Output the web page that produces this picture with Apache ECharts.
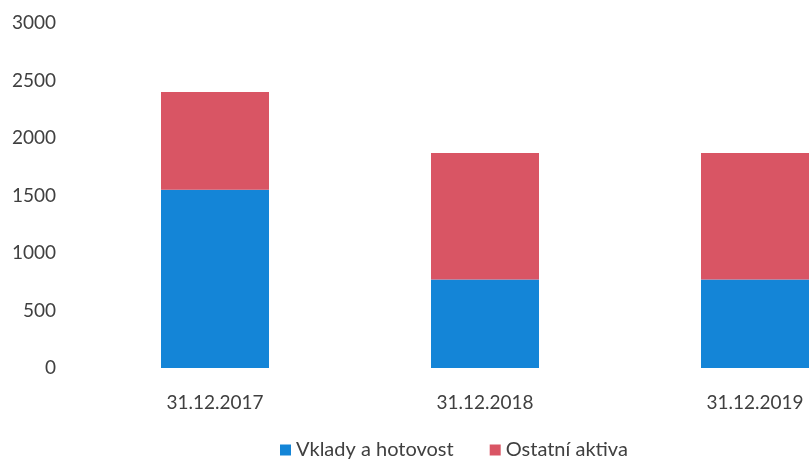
<!DOCTYPE html>
<html>
<head>
<meta charset="utf-8">
<script src="https://cdn.jsdelivr.net/npm/echarts@6/dist/echarts.min.js"></script>
<style>
  html, body { margin: 0; padding: 0; background: #fff; overflow: hidden; }
  #chart { width: 890px; height: 461px; }
</style>
</head>
<body>
<div id="chart"></div>
<script>
// data
var categories = ['31.12.2017', '31.12.2018', '31.12.2019'];
var vklady = [1550, 770, 770];
var ostatni = [850, 1100, 1100];
var seriesNames = ['Vklady a hotovost', 'Ostatní aktiva'];

// chart is wider than the window so the last bar gets cut at the right edge
var chart = echarts.init(document.getElementById('chart'));

var textColor = '#404040';
var fontFamily = 'Lato';

var option = {
    animation: false,
    textStyle: { fontFamily: fontFamily },
    legend: {
        bottom: -4,
        left: 275,
        itemWidth: 11,
        itemHeight: 11,
        itemGap: 36,
        icon: 'rect',
        textStyle: { color: textColor, fontSize: 20, fontFamily: fontFamily },
        data: seriesNames
    },
    grid: {
        left: 80,
        top: 23,
        right: 0,
        height: 345,
        containLabel: false
    },
    xAxis: {
        type: 'category',
        data: categories,
        axisLine: { show: false },
        axisTick: { show: false },
        axisLabel: { color: textColor, fontSize: 19, margin: 25 }
    },
    yAxis: {
        type: 'value',
        min: 0,
        max: 3000,
        interval: 500,
        splitLine: { show: false },
        axisLine: { show: false },
        axisTick: { show: false },
        axisLabel: {
            color: textColor,
            fontSize: 19,
            margin: 24,
            formatter: function (v) { return String(v); }
        }
    },
    series: [
        {
            name: seriesNames[0],
            type: 'bar',
            stack: 'a',
            barWidth: '40%',
            itemStyle: { color: '#1485d7' },
            data: vklady
        },
        {
            name: seriesNames[1],
            type: 'bar',
            stack: 'a',
            barWidth: '40%',
            itemStyle: { color: '#d95564' },
            data: ostatni
        }
    ]
};

chart.setOption(option);
</script>
</body>
</html>
